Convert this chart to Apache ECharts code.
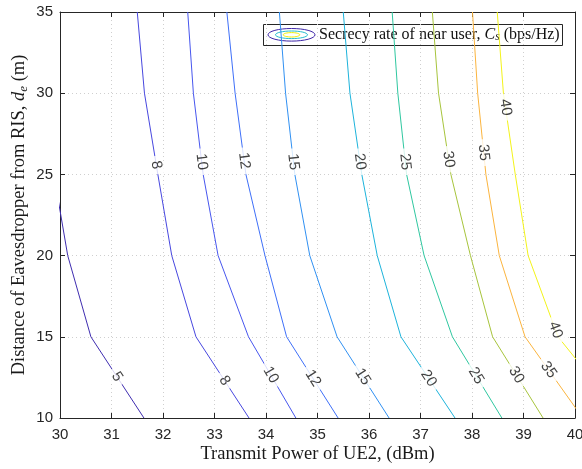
<!DOCTYPE html>
<html>
<head>
<meta charset="utf-8">
<script src="https://cdn.jsdelivr.net/npm/echarts@6/dist/echarts.min.js"></script>
<style>
  html, body { margin: 0; padding: 0; background: #fff; }
  #chart { width: 582px; height: 469px; }
</style>
</head>
<body>
<div id="chart"></div>
<script>
// Eavesdropper distance samples (m) at which each contour's power value is given
const distanceGrid = [10, 15, 20, 25, 30, 35];

// Contour levels of the secrecy rate (bps/Hz)
const rateLevels = [5, 8, 10, 12, 15, 20, 25, 30, 35, 40];

// Transmit power (dBm) of each contour at the distances above
const power5  = [31.63, 30.60, 30.15, 29.88, 29.70, 29.55];
const power8  = [33.67, 32.64, 32.17, 31.90, 31.64, 31.50];
const power10 = [34.58, 33.66, 33.07, 32.78, 32.59, 32.48];
const power12 = [35.40, 34.40, 33.98, 33.61, 33.40, 33.24];
const power15 = [36.39, 35.38, 34.85, 34.56, 34.38, 34.26];
const power20 = [37.67, 36.62, 36.16, 35.86, 35.63, 35.50];
const power25 = [38.58, 37.62, 37.07, 36.73, 36.56, 36.45];
const power30 = [39.38, 38.40, 37.97, 37.59, 37.35, 37.23];
const power35 = [40.15, 39.03, 38.53, 38.27, 38.11, 38.01];
const power40 = [40.94, 39.67, 39.09, 38.84, 38.61, 38.49];
const contourPowers = [power5, power8, power10, power12, power15, power20, power25, power30, power35, power40];

// Distances where the inline level labels sit (null = no label on that part)
const upperLabelDistance = [null, 25.58, 25.78, 25.84, 25.78, 25.78, 25.78, 25.93, 26.34, 29.13];
const lowerLabelDistance = [12.54, 12.30, 12.65, 12.44, 12.54, 12.44, 12.60, 12.65, 12.96, 15.42];

// Line colours per level (parula-like)
const levelColors = ['#3f2db0', '#4747df', '#4756ee', '#3e6ff8', '#3090f2',
                     '#1db3db', '#2fc7a0', '#a7c43c', '#fbb43e', '#f3f31a'];

const axisColor = '#262626';
const tickFont = 'Liberation Sans';
const titleFont = 'Liberation Serif';

const chart = echarts.init(document.getElementById('chart'), null, { renderer: 'canvas' });

function boxAxis(common, extra) {
  return Object.assign({}, common, extra);
}

const xCommon = {
  type: 'value', min: 30, max: 40, interval: 1,
  axisLine: { show: true, onZero: false, lineStyle: { color: axisColor, width: 1 } },
  axisTick: { show: true, inside: true, length: 5, lineStyle: { color: axisColor } }
};
const yCommon = {
  type: 'value', min: 10, max: 35, interval: 5,
  axisLine: { show: true, onZero: false, lineStyle: { color: axisColor, width: 1 } },
  axisTick: { show: true, inside: true, length: 5, lineStyle: { color: axisColor } }
};
const gridLine = { show: true, lineStyle: { color: '#cfcfcf', width: 1, type: [1, 3] } };

const lineSeries = rateLevels.map((level, k) => ({
  type: 'line',
  name: 'C' + level,
  data: distanceGrid.map((d, i) => [contourPowers[k][i], d]),
  showSymbol: false,
  symbol: 'none',
  clip: true,
  silent: true,
  animation: false,
  z: 2,
  lineStyle: { color: levelColors[k], width: 1 }
}));

const option = {
  animation: false,
  backgroundColor: '#fff',
  grid: { left: 60, right: 7, top: 12, bottom: 51, containLabel: false, outerBoundsMode: 'none' },
  xAxis: [
    boxAxis(xCommon, {
      position: 'bottom',
      axisLabel: { show: true, margin: 9, fontSize: 15, fontFamily: tickFont, color: axisColor },
      splitLine: gridLine,
      name: 'Transmit Power of UE2, (dBm)',
      nameLocation: 'middle',
      nameGap: 27,
      nameMoveOverlap: false,
      nameTextStyle: { fontFamily: titleFont, fontSize: 18.5, color: '#1a1a1a' }
    }),
    boxAxis(xCommon, { position: 'top', axisLabel: { show: false }, splitLine: { show: false } })
  ],
  yAxis: [
    boxAxis(yCommon, {
      position: 'left',
      axisLabel: { show: true, margin: 7, fontSize: 15, fontFamily: tickFont, color: axisColor },
      splitLine: gridLine,
      name: 'Distance of Eavesdropper from RIS, {it|d}{sub|e} (m)',
      nameLocation: 'middle',
      nameGap: 30,
      nameMoveOverlap: false,
      nameTextStyle: {
        fontFamily: titleFont, fontSize: 18.5, color: '#1a1a1a', lineHeight: 22,
        rich: {
          it: { fontFamily: titleFont, fontStyle: 'italic', fontSize: 18.5, color: '#1a1a1a', lineHeight: 22 },
          sub: { fontFamily: titleFont, fontStyle: 'italic', fontSize: 13, color: '#1a1a1a', verticalAlign: 'bottom', lineHeight: 22 }
        }
      }
    }),
    boxAxis(yCommon, { position: 'right', axisLabel: { show: false }, splitLine: { show: false } })
  ],
  series: lineSeries,
  graphic: [
    {
      type: 'group', z: 100, silent: true,
      children: [
        { type: 'rect', shape: { x: 263.5, y: 24.5, width: 299, height: 21 },
          style: { fill: '#fff', stroke: axisColor, lineWidth: 1 } },
        { type: 'ellipse', shape: { cx: 291.5, cy: 34.8, rx: 23.5, ry: 6.3 },
          style: { fill: 'none', stroke: '#3e26a8', lineWidth: 1 } },
        { type: 'ellipse', shape: { cx: 291.5, cy: 34.8, rx: 16, ry: 3.8 },
          style: { fill: 'none', stroke: '#25bdcf', lineWidth: 1 } },
        { type: 'ellipse', shape: { cx: 291.5, cy: 34.8, rx: 8.3, ry: 2.2 },
          style: { fill: 'none', stroke: '#f0f000', lineWidth: 1 } },
        { type: 'text', x: 319, y: 35,
          style: {
            text: 'Secrecy rate of near user, {it|C}{sub|s} (bps/Hz)',
            fontFamily: titleFont, fontSize: 16, fill: '#111',
            verticalAlign: 'middle', align: 'left',
            rich: {
              it: { fontFamily: titleFont, fontStyle: 'italic', fontSize: 16, fill: '#111' },
              sub: { fontFamily: titleFont, fontStyle: 'italic', fontSize: 11.5, fill: '#111', verticalAlign: 'bottom' }
            }
          } }
      ]
    }
  ]
};

chart.setOption(option);

// Place each level label on its contour, turned to follow the local segment
function labelItem(k, dist) {
  const xs = contourPowers[k];
  let i = 0;
  while (i < distanceGrid.length - 2 && dist > distanceGrid[i + 1]) i++;
  const t = (dist - distanceGrid[i]) / (distanceGrid[i + 1] - distanceGrid[i]);
  const x = xs[i] + t * (xs[i + 1] - xs[i]);
  const lower = chart.convertToPixel({ gridIndex: 0 }, [xs[i], distanceGrid[i]]);
  const upper = chart.convertToPixel({ gridIndex: 0 }, [xs[i + 1], distanceGrid[i + 1]]);
  const dx = lower[0] - upper[0];
  const dy = lower[1] - upper[1];
  const angle = -Math.atan2(dy, dx) * 180 / Math.PI;
  return {
    name: String(rateLevels[k]),
    value: [x, dist],
    label: { rotate: angle }
  };
}

const labelData = [];
rateLevels.forEach((level, k) => {
  if (upperLabelDistance[k] !== null) labelData.push(labelItem(k, upperLabelDistance[k]));
  if (lowerLabelDistance[k] !== null) labelData.push(labelItem(k, lowerLabelDistance[k]));
});

chart.setOption({
  series: lineSeries.concat([{
    type: 'scatter',
    name: 'levels',
    data: labelData,
    symbolSize: 0.1,
    itemStyle: { color: 'rgba(0,0,0,0)' },
    silent: true,
    animation: false,
    z: 5,
    label: {
      show: true,
      position: 'inside',
      formatter: '{b}',
      fontFamily: tickFont,
      fontSize: 15,
      color: '#111',
      backgroundColor: '#fff',
      padding: [0, 5],
      lineHeight: 15,
      align: 'center',
      verticalAlign: 'middle'
    }
  }])
});
</script>
</body>
</html>
